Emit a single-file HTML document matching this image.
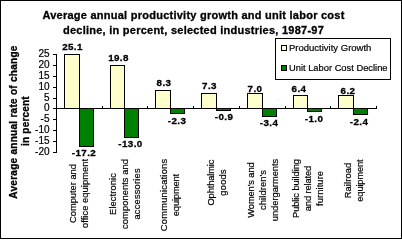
<!DOCTYPE html><html><head><meta charset="utf-8"><style>html,body{margin:0;padding:0;background:#fff;}svg{display:block;will-change:transform;}text{font-family:"Liberation Sans",sans-serif;}text{stroke:#000;stroke-width:0.2px;}text[font-weight="bold"]{stroke-width:0.3px;}</style></head><body>
<svg width="402" height="239" viewBox="0 0 402 239">
<rect x="0" y="0" width="402" height="239" fill="#fff"/>
<g shape-rendering="crispEdges" fill="#000">
<rect x="0" y="0" width="402" height="1"/><rect x="0" y="238" width="402" height="1"/><rect x="0" y="0" width="1" height="239"/><rect x="401" y="0" width="1" height="239"/>
</g>
<g shape-rendering="crispEdges">
<rect x="64" y="54" width="16" height="55" fill="#000"/>
<rect x="65" y="55" width="14" height="53" fill="#FFFFCC"/>
<rect x="79" y="108" width="15" height="39" fill="#000"/>
<rect x="80" y="109" width="13" height="37" fill="#008000"/>
<rect x="110" y="65" width="15" height="44" fill="#000"/>
<rect x="111" y="66" width="13" height="42" fill="#FFFFCC"/>
<rect x="124" y="108" width="15" height="30" fill="#000"/>
<rect x="125" y="109" width="13" height="28" fill="#008000"/>
<rect x="155" y="90" width="16" height="19" fill="#000"/>
<rect x="156" y="91" width="14" height="17" fill="#FFFFCC"/>
<rect x="170" y="108" width="15" height="6" fill="#000"/>
<rect x="171" y="109" width="13" height="4" fill="#008000"/>
<rect x="201" y="93" width="16" height="16" fill="#000"/>
<rect x="202" y="94" width="14" height="14" fill="#FFFFCC"/>
<rect x="216" y="108" width="15" height="3" fill="#000"/>
<rect x="217" y="109" width="13" height="1" fill="#008000"/>
<rect x="247" y="93" width="16" height="16" fill="#000"/>
<rect x="248" y="94" width="14" height="14" fill="#FFFFCC"/>
<rect x="262" y="108" width="15" height="9" fill="#000"/>
<rect x="263" y="109" width="13" height="7" fill="#008000"/>
<rect x="293" y="95" width="15" height="14" fill="#000"/>
<rect x="294" y="96" width="13" height="12" fill="#FFFFCC"/>
<rect x="307" y="108" width="15" height="4" fill="#000"/>
<rect x="308" y="109" width="13" height="2" fill="#008000"/>
<rect x="338" y="95" width="16" height="14" fill="#000"/>
<rect x="339" y="96" width="14" height="12" fill="#FFFFCC"/>
<rect x="353" y="108" width="15" height="7" fill="#000"/>
<rect x="354" y="109" width="13" height="5" fill="#008000"/>
<rect x="56" y="54" width="1" height="99" fill="#000"/>
<rect x="53" y="54" width="3" height="1" fill="#000"/>
<rect x="53" y="65" width="3" height="1" fill="#000"/>
<rect x="53" y="76" width="3" height="1" fill="#000"/>
<rect x="53" y="87" width="3" height="1" fill="#000"/>
<rect x="53" y="98" width="3" height="1" fill="#000"/>
<rect x="53" y="108" width="3" height="1" fill="#000"/>
<rect x="53" y="119" width="3" height="1" fill="#000"/>
<rect x="53" y="130" width="3" height="1" fill="#000"/>
<rect x="53" y="141" width="3" height="1" fill="#000"/>
<rect x="53" y="152" width="3" height="1" fill="#000"/>
<rect x="53" y="108" width="324" height="1" fill="#000"/>
<rect x="102" y="106" width="1" height="2" fill="#000"/>
<rect x="147" y="106" width="1" height="2" fill="#000"/>
<rect x="193" y="106" width="1" height="2" fill="#000"/>
<rect x="239" y="106" width="1" height="2" fill="#000"/>
<rect x="285" y="106" width="1" height="2" fill="#000"/>
<rect x="330" y="106" width="1" height="2" fill="#000"/>
<rect x="376" y="106" width="1" height="2" fill="#000"/>
<rect x="275" y="38" width="116" height="1" fill="#000"/><rect x="275" y="79" width="116" height="1" fill="#000"/><rect x="275" y="38" width="1" height="42" fill="#000"/><rect x="390" y="38" width="1" height="42" fill="#000"/>
<rect x="281" y="45" width="6" height="6" fill="#000"/><rect x="282" y="46" width="4" height="4" fill="#FFFFCC"/>
<rect x="281" y="65" width="6" height="6" fill="#000"/><rect x="282" y="66" width="4" height="4" fill="#008000"/>
</g>
<text x="193.5" y="19" text-anchor="middle" font-weight="bold" font-size="11" letter-spacing="0.25">Average annual productivity growth and unit labor cost</text>
<text x="193.5" y="34" text-anchor="middle" font-weight="bold" font-size="11" letter-spacing="0.25">decline, in percent, selected industries, 1987-97</text>
<text x="289" y="51" font-size="9.5">Productivity Growth</text>
<text x="289" y="71" font-size="9.33">Unit Labor Cost Decline</text>
<text x="49.5" y="57" text-anchor="end" font-size="10">25</text>
<text x="49.5" y="68" text-anchor="end" font-size="10">20</text>
<text x="49.5" y="79" text-anchor="end" font-size="10">15</text>
<text x="49.5" y="90" text-anchor="end" font-size="10">10</text>
<text x="49.5" y="101" text-anchor="end" font-size="10">5</text>
<text x="49.5" y="111" text-anchor="end" font-size="10">0</text>
<text x="49.5" y="122" text-anchor="end" font-size="10">-5</text>
<text x="49.5" y="133" text-anchor="end" font-size="10">-10</text>
<text x="49.5" y="144" text-anchor="end" font-size="10">-15</text>
<text x="49.5" y="155" text-anchor="end" font-size="10">-20</text>
<text x="72.5" y="50" text-anchor="middle" font-weight="bold" font-size="9.8" letter-spacing="0.4">25.1</text>
<text x="118.5" y="61" text-anchor="middle" font-weight="bold" font-size="9.8" letter-spacing="0.4">19.8</text>
<text x="164.0" y="86" text-anchor="middle" font-weight="bold" font-size="9.8" letter-spacing="0.4">8.3</text>
<text x="209.5" y="89" text-anchor="middle" font-weight="bold" font-size="9.8" letter-spacing="0.4">7.3</text>
<text x="255.0" y="92" text-anchor="middle" font-weight="bold" font-size="9.8" letter-spacing="0.4">7.0</text>
<text x="299.0" y="92" text-anchor="middle" font-weight="bold" font-size="9.8" letter-spacing="0.4">6.4</text>
<text x="348.0" y="94" text-anchor="middle" font-weight="bold" font-size="9.8" letter-spacing="0.4">6.2</text>
<text x="84.0" y="156" text-anchor="middle" font-weight="bold" font-size="9.8" letter-spacing="0.4">-17.2</text>
<text x="130.5" y="147" text-anchor="middle" font-weight="bold" font-size="9.8" letter-spacing="0.4">-13.0</text>
<text x="177.0" y="124" text-anchor="middle" font-weight="bold" font-size="9.8" letter-spacing="0.4">-2.3</text>
<text x="224.0" y="120" text-anchor="middle" font-weight="bold" font-size="9.8" letter-spacing="0.4">-0.9</text>
<text x="269.0" y="126" text-anchor="middle" font-weight="bold" font-size="9.8" letter-spacing="0.4">-3.4</text>
<text x="314.0" y="122" text-anchor="middle" font-weight="bold" font-size="9.8" letter-spacing="0.4">-1.0</text>
<text x="359.0" y="125" text-anchor="middle" font-weight="bold" font-size="9.8" letter-spacing="0.4">-2.4</text>
<text transform="translate(17,122) rotate(-90)" text-anchor="middle" font-weight="bold" font-size="10" letter-spacing="0.28">Average annual rate of change</text>
<text transform="translate(29,121) rotate(-90)" text-anchor="middle" font-weight="bold" font-size="10" letter-spacing="0.2">in percent</text>
<text transform="translate(76,193.5) rotate(-90)" text-anchor="middle" font-size="9.3">Computer and</text>
<text transform="translate(88,193.5) rotate(-90)" text-anchor="middle" font-size="9.3" textLength="69.06" lengthAdjust="spacing">office equipment</text>
<text transform="translate(116,194) rotate(-90)" text-anchor="middle" font-size="9.3" textLength="41.8" lengthAdjust="spacing">Electronic</text>
<text transform="translate(128,194) rotate(-90)" text-anchor="middle" font-size="9.3" textLength="69.75" lengthAdjust="spacing">components and</text>
<text transform="translate(140,194) rotate(-90)" text-anchor="middle" font-size="9.3" textLength="51.1" lengthAdjust="spacing">accessories</text>
<text transform="translate(167,195) rotate(-90)" text-anchor="middle" font-size="9.3" textLength="72.25" lengthAdjust="spacing">Communications</text>
<text transform="translate(179,195) rotate(-90)" text-anchor="middle" font-size="9.3" textLength="42.4" lengthAdjust="spacing">equipment</text>
<text transform="translate(214,182.5) rotate(-90)" text-anchor="middle" font-size="9.3" textLength="46.0" lengthAdjust="spacing">Ophthalmic</text>
<text transform="translate(226,182.5) rotate(-90)" text-anchor="middle" font-size="9.3" textLength="26.3" lengthAdjust="spacing">goods</text>
<text transform="translate(254,190) rotate(-90)" text-anchor="middle" font-size="9.3" textLength="55.4" lengthAdjust="spacing">Women&#39;s and</text>
<text transform="translate(266,190) rotate(-90)" text-anchor="middle" font-size="9.3" textLength="40.0" lengthAdjust="spacing">children&#39;s</text>
<text transform="translate(278,190) rotate(-90)" text-anchor="middle" font-size="9.3">undergarments</text>
<text transform="translate(299,188.5) rotate(-90)" text-anchor="middle" font-size="9.3" textLength="59.0" lengthAdjust="spacing">Public building</text>
<text transform="translate(311,188.5) rotate(-90)" text-anchor="middle" font-size="9.3" textLength="45.5" lengthAdjust="spacing">and related</text>
<text transform="translate(323,188.5) rotate(-90)" text-anchor="middle" font-size="9.3" textLength="35.1" lengthAdjust="spacing">furniture</text>
<text transform="translate(351,180.5) rotate(-90)" text-anchor="middle" font-size="9.3" textLength="35.6" lengthAdjust="spacing">Railroad</text>
<text transform="translate(363,180.5) rotate(-90)" text-anchor="middle" font-size="9.3" textLength="42.4" lengthAdjust="spacing">equipment</text>
</svg></body></html>
